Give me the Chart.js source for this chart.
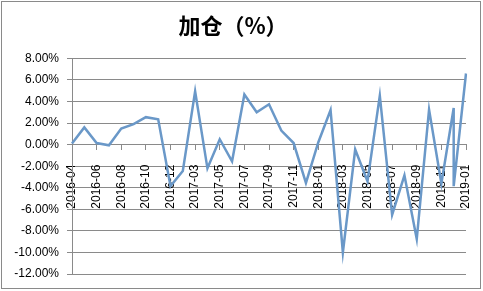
<!DOCTYPE html>
<html>
<head>
<meta charset="utf-8">
<script src="https://cdn.jsdelivr.net/npm/chart.js@4"></script>
<style>
  body { margin: 0; background: #fff; }
  #wrap { position: relative; width: 483px; height: 291px; }
  #frame { position: absolute; left: 1px; top: 1px; width: 478px; height: 286px; border: 1px solid #8a8a8a; pointer-events: none; }
</style>
</head>
<body>
<div id="wrap">
  <canvas id="chart" width="483" height="291"></canvas>
  <div id="frame"></div>
</div>
<script>
// axis categories (2017-01 not in the source series)
const months = [
    '2016-04', '2016-05', '2016-06', '2016-07', '2016-08', '2016-09', '2016-10', '2016-11', '2016-12',
    '2017-02', '2017-03', '2017-04', '2017-05', '2017-06', '2017-07', '2017-08', '2017-09', '2017-10',
    '2017-11', '2017-12', '2018-01', '2018-02', '2018-03', '2018-04', '2018-05', '2018-06', '2018-07',
    '2018-08', '2018-09', '2018-10', '2018-11', '2018-12', '2019-01'
];

// month of each point - 2018-12 shows up twice in the picture (spike up then straight down)
const pointMonths = [
    '2016-04', '2016-05', '2016-06', '2016-07', '2016-08', '2016-09', '2016-10', '2016-11', '2016-12',
    '2017-02', '2017-03', '2017-04', '2017-05', '2017-06', '2017-07', '2017-08', '2017-09', '2017-10',
    '2017-11', '2017-12', '2018-01', '2018-02', '2018-03', '2018-04', '2018-05', '2018-06', '2018-07',
    '2018-08', '2018-09', '2018-10', '2018-11', '2018-12', '2018-12', '2019-01'
];

// 加仓 (%)
const addPct = [
    0.1, 1.6, 0.15, -0.06, 1.5, 1.9, 2.55, 2.35, -3.85,
    -2.45, 4.95, -2.2, 0.5, -1.55, 4.65, 3.0, 3.75, 1.3,
    0.15, -3.55, 0.2, 3.2, -10.0, -0.45, -3.4, 4.55, -6.5,
    -2.85, -8.75, 3.25, -3.6, 3.4, -3.85, 6.6
];

const yTicks = { min: -12, max: 8, step: 2 };

const gridColor = '#8a8a8a';
const lineColor = '#6a98c8';

const points = pointMonths.map((m, i) => ({ x: m, y: addPct[i] }));

const ctx = document.getElementById('chart').getContext('2d');
const chart = new Chart(ctx, {
    type: 'line',
    data: {
        labels: months,
        datasets: [{
            label: '加仓',
            data: points,
            borderColor: lineColor,
            borderWidth: 2.5,
            pointRadius: 0,
            tension: 0,
            fill: false
        }]
    },
    options: {
        responsive: false,
        animation: false,
        layout: {
            padding: { top: 12, right: 17, bottom: 17, left: 0 }
        },
        plugins: {
            legend: { display: false },
            tooltip: { enabled: false },
            title: {
                display: true,
                text: '加仓（%）',
                color: '#000',
                font: { family: '"Noto Sans CJK SC", sans-serif', size: 22, weight: 'bold' },
                padding: { top: 0, bottom: 20 }
            }
        },
        scales: {
            x: {
                type: 'category',
                position: { y: 0 },
                offset: false,
                // labels hang below the zero line, so they should not eat into the plot width
                afterFit: function (scale) {
                    scale.paddingLeft = 0;
                    scale.paddingRight = 0;
                },
                grid: {
                    drawOnChartArea: false,
                    drawTicks: true,
                    tickLength: 5,
                    color: gridColor
                },
                border: { color: gridColor, width: 1 },
                ticks: {
                    autoSkip: false,
                    minRotation: 90,
                    maxRotation: 90,
                    padding: 15,
                    color: '#000',
                    font: { family: '"Liberation Sans", Arial, sans-serif', size: 12 },
                    // every other month gets a label and a tick mark
                    callback: function (value, index) {
                        return index % 2 === 0 ? months[index] : null;
                    }
                }
            },
            y: {
                min: yTicks.min,
                max: yTicks.max,
                afterFit: function (scale) {
                    scale.width = 72;
                },
                grid: {
                    color: gridColor,
                    tickLength: 5
                },
                border: { color: gridColor, width: 1 },
                ticks: {
                    stepSize: yTicks.step,
                    padding: 8,
                    color: '#000',
                    font: { family: '"Liberation Sans", Arial, sans-serif', size: 12 },
                    callback: function (value) {
                        return value.toFixed(2) + '%';
                    }
                }
            }
        }
    }
});
</script>
</body>
</html>
